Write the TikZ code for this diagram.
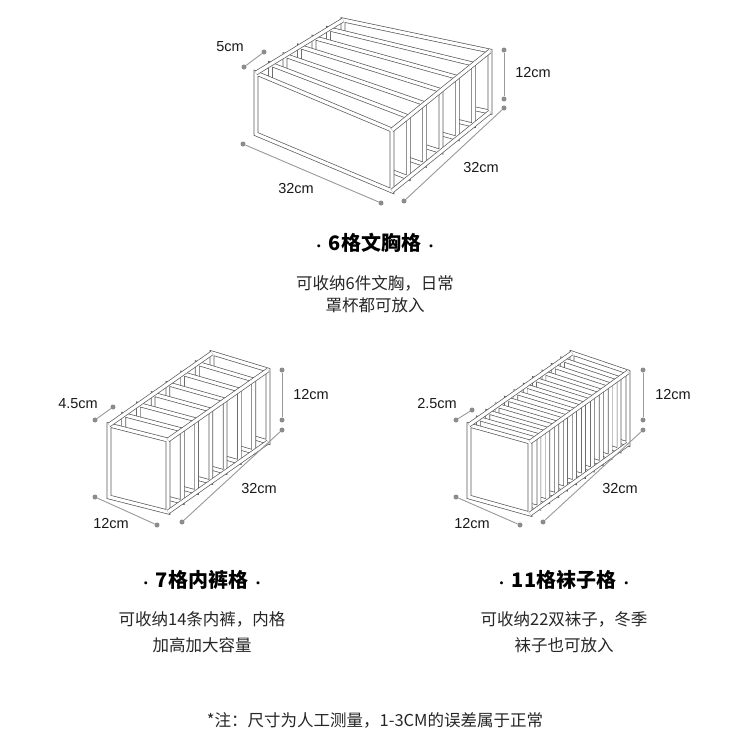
\documentclass[tikz,border=0pt]{standalone}
\usepackage{fontspec}
\setmainfont{Liberation Sans}
\newfontfamily\cjk{Noto Sans CJK SC}
\usetikzlibrary{calc}
\tikzset{
 panel/.style={draw=black!65,line width=0.7pt,double=white,double distance=3.2pt,fill=white,line join=miter},
 edge/.style={draw=black!65,line width=0.7pt,double=white,double distance=3.2pt},
 dim/.style={draw=black!40,line width=0.9pt},
 dot/.style={circle,fill=black!45,inner sep=0pt,minimum size=5pt},
 lab/.style={font=\fontsize{14.5}{16}\selectfont,text=black!90},
 ttl/.style={font=\cjk\bfseries\fontsize{20}{22}\selectfont},
 dsc/.style={font=\cjk\fontsize{16.5}{20}\selectfont,text=black!85},
}
\newcommand\md{{\fontsize{11}{11}\selectfont\raisebox{0pt}{·}}}
% #1,#2 FTL; #3,#4 width; #5 height; #6,#7 left depth; #8,#9 right depth; #10 n
\newcommand\orgbox[9]{\orgboxb{#1}{#2}{#3}{#4}{#5}{#6}{#7}{#8}{#9}}
\newcommand\orgboxb[9]{\def\pA{#1}\def\pB{#2}\def\pC{#3}\def\pD{#4}\def\pE{#5}\def\pF{#6}\def\pG{#7}\def\pH{#8}\def\pI{#9}\orgboxc}
\newcommand\orgboxc[1]{%
 \coordinate (FTL) at (\pA,\pB);
 \coordinate (FTR) at ($(FTL)+(\pC,\pD)$);
 \coordinate (FBR) at ($(FTR)+(0,\pE)$);
 \foreach \i in {#1,...,0}{%
  \pgfmathsetmacro\t{\i/#1}%
  \pgfmathsetmacro\ax{\pA+\t*\pF}\pgfmathsetmacro\ay{\pB+\t*\pG}%
  \pgfmathsetmacro\bx{\pA+\pC+\t*\pH}\pgfmathsetmacro\by{\pB+\pD+\t*\pI}%
  \draw[panel] (\ax,\ay) -- (\bx,\by) -- ++(0,\pE) -- ($(\ax,\ay)+(0,\pE)$) -- cycle;}
 \draw[edge] (FTL) -- ++(\pF,\pG);
 \draw[edge] (FTR) -- ++(\pH,\pI);
 \draw[edge] (FBR) -- ++(\pH,\pI);
}
\newcommand\dimline[5]{%
 \node[dot] (#1a) at (#2,#3) {}; \node[dot] (#1b) at (#4,#5) {};
 \draw[dim] (#1a) -- (#1b);}
\begin{document}
\begin{tikzpicture}[x=1pt,y=-1pt]
\useasboundingbox[fill=white] (0,0) rectangle (750,750);
% top box
\orgbox{256}{73}{136}{57}{61}{87}{-53}{98}{-79}{6}
\dimline{t1}{244}{67}{264}{52}
\dimline{t2}{504}{50}{504}{99}
\dimline{t3}{504}{108}{404}{201}
\dimline{t4}{243}{144}{381}{203}
\node[lab] (l1) at (230,47) {5cm};
\node[lab] (l2) at (533,73) {12cm};
\node[lab] (l3) at (481,168) {32cm};
\node[lab] (l4) at (296,189) {32cm};
% left box
\orgbox{109}{425}{59}{15}{72}{103}{-72}{100}{-70}{7}
\dimline{a1}{95}{420}{113}{407}
\dimline{a2}{282}{370}{282}{420}
\dimline{a3}{282}{430}{182}{522}
\dimline{a4}{95}{497}{157}{525}
\node[lab] (m1) at (78,404) {4.5cm};
\node[lab] (m2) at (311,395) {12cm};
\node[lab] (m3) at (259,489) {32cm};
\node[lab] (m4) at (111,524) {12cm};
% right box
\orgbox{469}{425}{61}{17}{72}{103}{-72}{98}{-70}{11}
\dimline{b1}{456}{420}{472}{410}
\dimline{b2}{643}{370}{643}{420}
\dimline{b3}{643}{430}{543}{522}
\dimline{b4}{456}{497}{520}{525}
\node[lab] (n1) at (437,404) {2.5cm};
\node[lab] (n2) at (673,395) {12cm};
\node[lab] (n3) at (620,489) {32cm};
\node[lab] (n4) at (472,524) {12cm};
% texts
\node[ttl] (T1) at (375,243) {\md\ 6格文胸格 \md};
\node[dsc] (D1) at (375,283) {可收纳6件文胸，日常};
\node[dsc] (D1b) at (375,305) {罩杯都可放入};
\node[ttl] (T2) at (202,580) {\md\ 7格内裤格 \md};
\node[dsc] (D2) at (202,619) {可收纳14条内裤，内格};
\node[dsc] (D2b) at (202,645) {加高加大容量};
\node[ttl] (T3) at (564,580) {\md\ 11格袜子格 \md};
\node[dsc] (D3) at (564,619) {可收纳22双袜子，冬季};
\node[dsc] (D3b) at (564,645) {袜子也可放入};
\node[dsc] (F) at (375,720) {*注：尺寸为人工测量，1-3CM的误差属于正常};
\end{tikzpicture}
\end{document}
